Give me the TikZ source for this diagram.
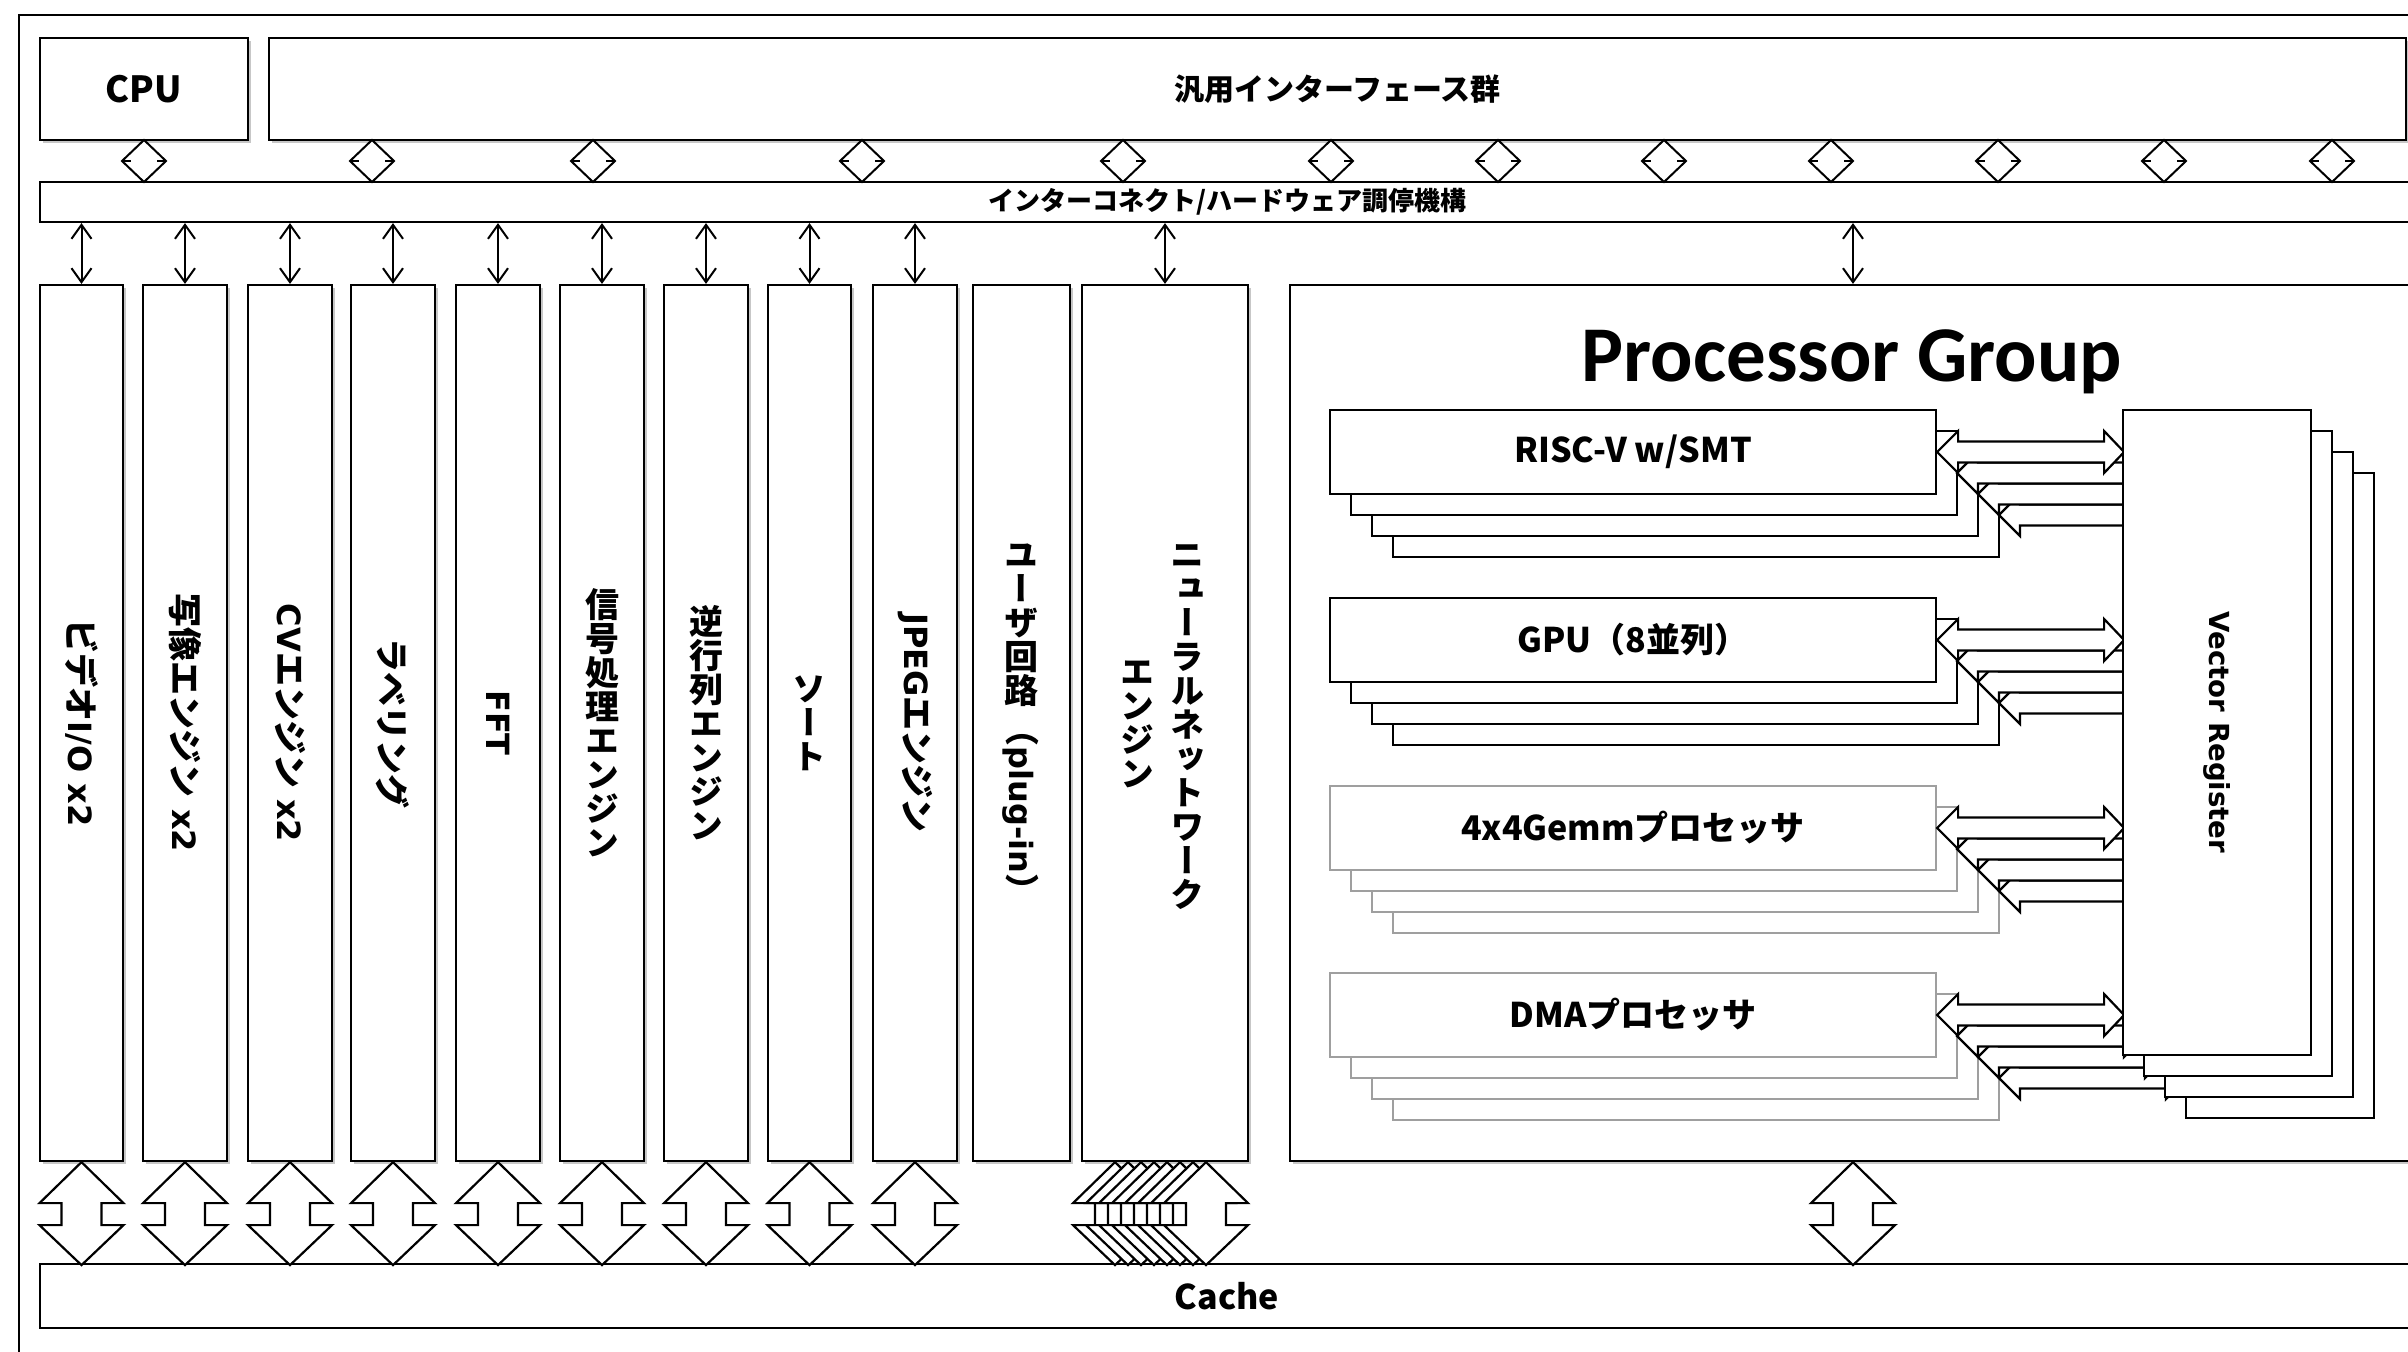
\documentclass[tikz,border=0pt]{standalone}
\usepackage{fontspec}
\usepackage{graphicx}
\usetikzlibrary{arrows.meta,fit,calc,shadows}
\newfontfamily\jp{Noto Sans CJK JP}
\newfontfamily\jpv[RawFeature=+vert]{Noto Sans CJK JP}
\newfontfamily\lat{DejaVu Sans}
\newfontfamily\carl{Carlito}
\newcommand\LatT[1]{{\lat\fontsize{16}{16}\selectfont #1}}
\tikzset{
  bx/.style={draw=black,fill=white,line width=1.1pt,inner sep=0pt},
  shbx/.style={bx,drop shadow={shadow xshift=1.6pt,shadow yshift=-1.6pt,opacity=0.22,fill=black}},
  barr/.style={draw=black,fill=white,line width=1.1pt,line join=miter},
  sarr/.style={line width=1pt,{Straight Barb[length=7pt,width=10pt]}-{Straight Barb[length=7pt,width=10pt]}},
  hlbl/.style={inner sep=0pt,font=\jp\bfseries\fontsize{17}{17}\selectfont},
  rlbl/.style={hlbl,rotate=-90},
  vlbl/.style={inner sep=0pt,align=center,font=\jpv\bfseries\fontsize{17}{17}\selectfont},
}
\newcommand\BigArr[1]{\draw[barr] (#1) -- ++(42,41) -- ++(-22,0) -- ++(0,22) -- ++(22,0) -- ++(-42,40) -- ++(-42,-40) -- ++(22,0) -- ++(0,-22) -- ++(-22,0) -- cycle;}
\newcommand\Dmd[1]{\draw[barr,line width=1pt] (#1,140) -- ++(22,21) -- ++(-22,21) -- ++(-22,-21) -- cycle;
  \draw[line width=1pt] (#1+22,161) -- ++(-9,0) (#1-22,161) -- ++(9,0);}
\newcommand\PArrow[1]{\draw[barr] (#1) -- ++(21,-21) -- ++(0,10.5) -- ++(146,0) -- ++(0,-10.5) -- ++(20,21) -- ++(-20,21) -- ++(0,-10.5) -- ++(-146,0) -- ++(0,10.5) -- cycle;}
\newcommand\PStack[4]{%
  \foreach \k in {3,2,1}{%
    \draw[bx,draw=#3] (1330+21*\k,#1+21*\k) rectangle ++(606,84);
    \PArrow{1936+21*\k,#1+42+21*\k}
  }
  \node[bx,draw=#3,fit={(1330,#1) (1936,#1+84)}] (#2) {};
  \node[hlbl] (#2-t) at (#2.center) {#4};
  \PArrow{#2.east}
}
\begin{document}
\begin{tikzpicture}[x=0.5pt,y=-0.5pt]
\useasboundingbox (0,0) rectangle (2408,1351);
\clip (0,0) rectangle (2408,1351);
\fill[white] (0,0) rectangle (2408,1351);
% outer frame
\draw[line width=1.4pt] (19,15) rectangle (2440,1400);
% top row
\node[shbx,fit={(40,38) (248,140)}] (cpu) {};
\node[hlbl,font=\jp\bfseries\fontsize{18}{18}\selectfont] (cpu-t) at (cpu.center) {CPU};
\node[shbx,fit={(269,38) (2406,140)}] (gif) {};
\node[hlbl,font=\jp\bfseries\fontsize{15}{15}\selectfont] (gif-t) at (gif.center) {汎用インターフェース群};
% interconnect
\node[bx,fit={(40,182) (2414,222)}] (ic) {};
\node[hlbl,font=\jp\bfseries\fontsize{13}{13}\selectfont] (ic-t) at (ic.center) {インターコネクト/ハードウェア調停機構};
% diamonds
\foreach \dx in {144,372,593,862,1123,1331,1498,1664,1831,1998,2164,2332}{\Dmd{\dx}}
% columns
\node[shbx,fit={(40,285) (123,1161)}] (c1) {};
\node[shbx,fit={(143,285) (227,1161)}] (c2) {};
\node[shbx,fit={(248,285) (332,1161)}] (c3) {};
\node[shbx,fit={(351,285) (435,1161)}] (c4) {};
\node[shbx,fit={(456,285) (540,1161)}] (c5) {};
\node[shbx,fit={(560,285) (644,1161)}] (c6) {};
\node[shbx,fit={(664,285) (748,1161)}] (c7) {};
\node[shbx,fit={(768,285) (851,1161)}] (c8) {};
\node[shbx,fit={(873,285) (957,1161)}] (c9) {};
\node[shbx,fit={(973,285) (1070,1161)}] (c10) {};
\node[shbx,fit={(1082,285) (1248,1161)}] (c11) {};
% column labels
\node[rlbl] (t1) at (c1.center) {ビデオ\LatT{I/O~x2}};
\node[rlbl] (t2) at (c2.center) {写像エンジン\LatT{~x2}};
\node[rlbl] (t3) at (c3.center) {\LatT{CV}エンジン\LatT{~x2}};
\node[rlbl] (t4) at (c4.center) {ラベリング};
\node[rlbl] (t5) at (c5.center) {\LatT{FFT}};
\node[vlbl] (t6) at (c6.center) {信\\号\\処\\理\\エ\\ン\\ジ\\ン};
\node[vlbl] (t7) at (c7.center) {逆\\行\\列\\エ\\ン\\ジ\\ン};
\node[vlbl] (t8) at (c8.center) {ソ\\ー\\ト};
\node[rlbl] (t9) at (c9.center) {\LatT{JPEG}エンジン};
\node[vlbl] (t10a) at (1021,625) {ユ\\ー\\ザ\\回\\路};
\node[rlbl,anchor=west] (t10b) at (1021,712) {（\LatT{plug-in}）};
\node[vlbl] (t11a) at (1187,727) {ニ\\ュ\\ー\\ラ\\ル\\ネ\\ッ\\ト\\ワ\\ー\\ク};
\node[vlbl] (t11b) at (1137,724) {エ\\ン\\ジ\\ン};
% processor group
\node[shbx,fit={(1290,285) (2416,1161)}] (pg) {};
\node[inner sep=0pt,anchor=base,font=\carl\bfseries\fontsize{39.5}{39.5}\selectfont] (pg-t) at (1852,381) {Processor Group};
\PStack{410}{p1}{black}{RISC-V w/SMT}
\PStack{598}{p2}{black}{GPU（8並列）}
\PStack{786}{p3}{gray!75}{4x4Gemmプロセッサ}
\PStack{973}{p4}{gray!75}{DMAプロセッサ}
% vector register stack
\foreach \k in {3,2,1}{\draw[bx] (2123+21*\k,410+21*\k) rectangle ++(188,645);}
\node[bx,fit={(2123,410) (2311,1055)}] (vr) {};
\node[inner sep=0pt,rotate=-90,font=\lat\bfseries\fontsize{13.8}{13.8}\selectfont] (vr-t) at (vr.center) {Vector Register};
% small arrows interconnect -> blocks
\foreach \c in {c1,c2,c3,c4,c5,c6,c7,c8,c9,c11,pg}{\draw[sarr] (\c.north |- ic.south) -- (\c.north);}
% cache
\node[bx,fit={(40,1264) (2414,1328)}] (cache) {};
\node[hlbl] (cache-t) at (cache.center) {Cache};
% big double arrows
\foreach \c in {c1,c2,c3,c4,c5,c6,c7,c8,c9,pg}{\BigArr{\c.south}}
\foreach \i in {7,6,5,4,3,2,1,0}{\BigArr{$(c11.south)+(41-13*\i,0)$}}
\end{tikzpicture}
\end{document}
